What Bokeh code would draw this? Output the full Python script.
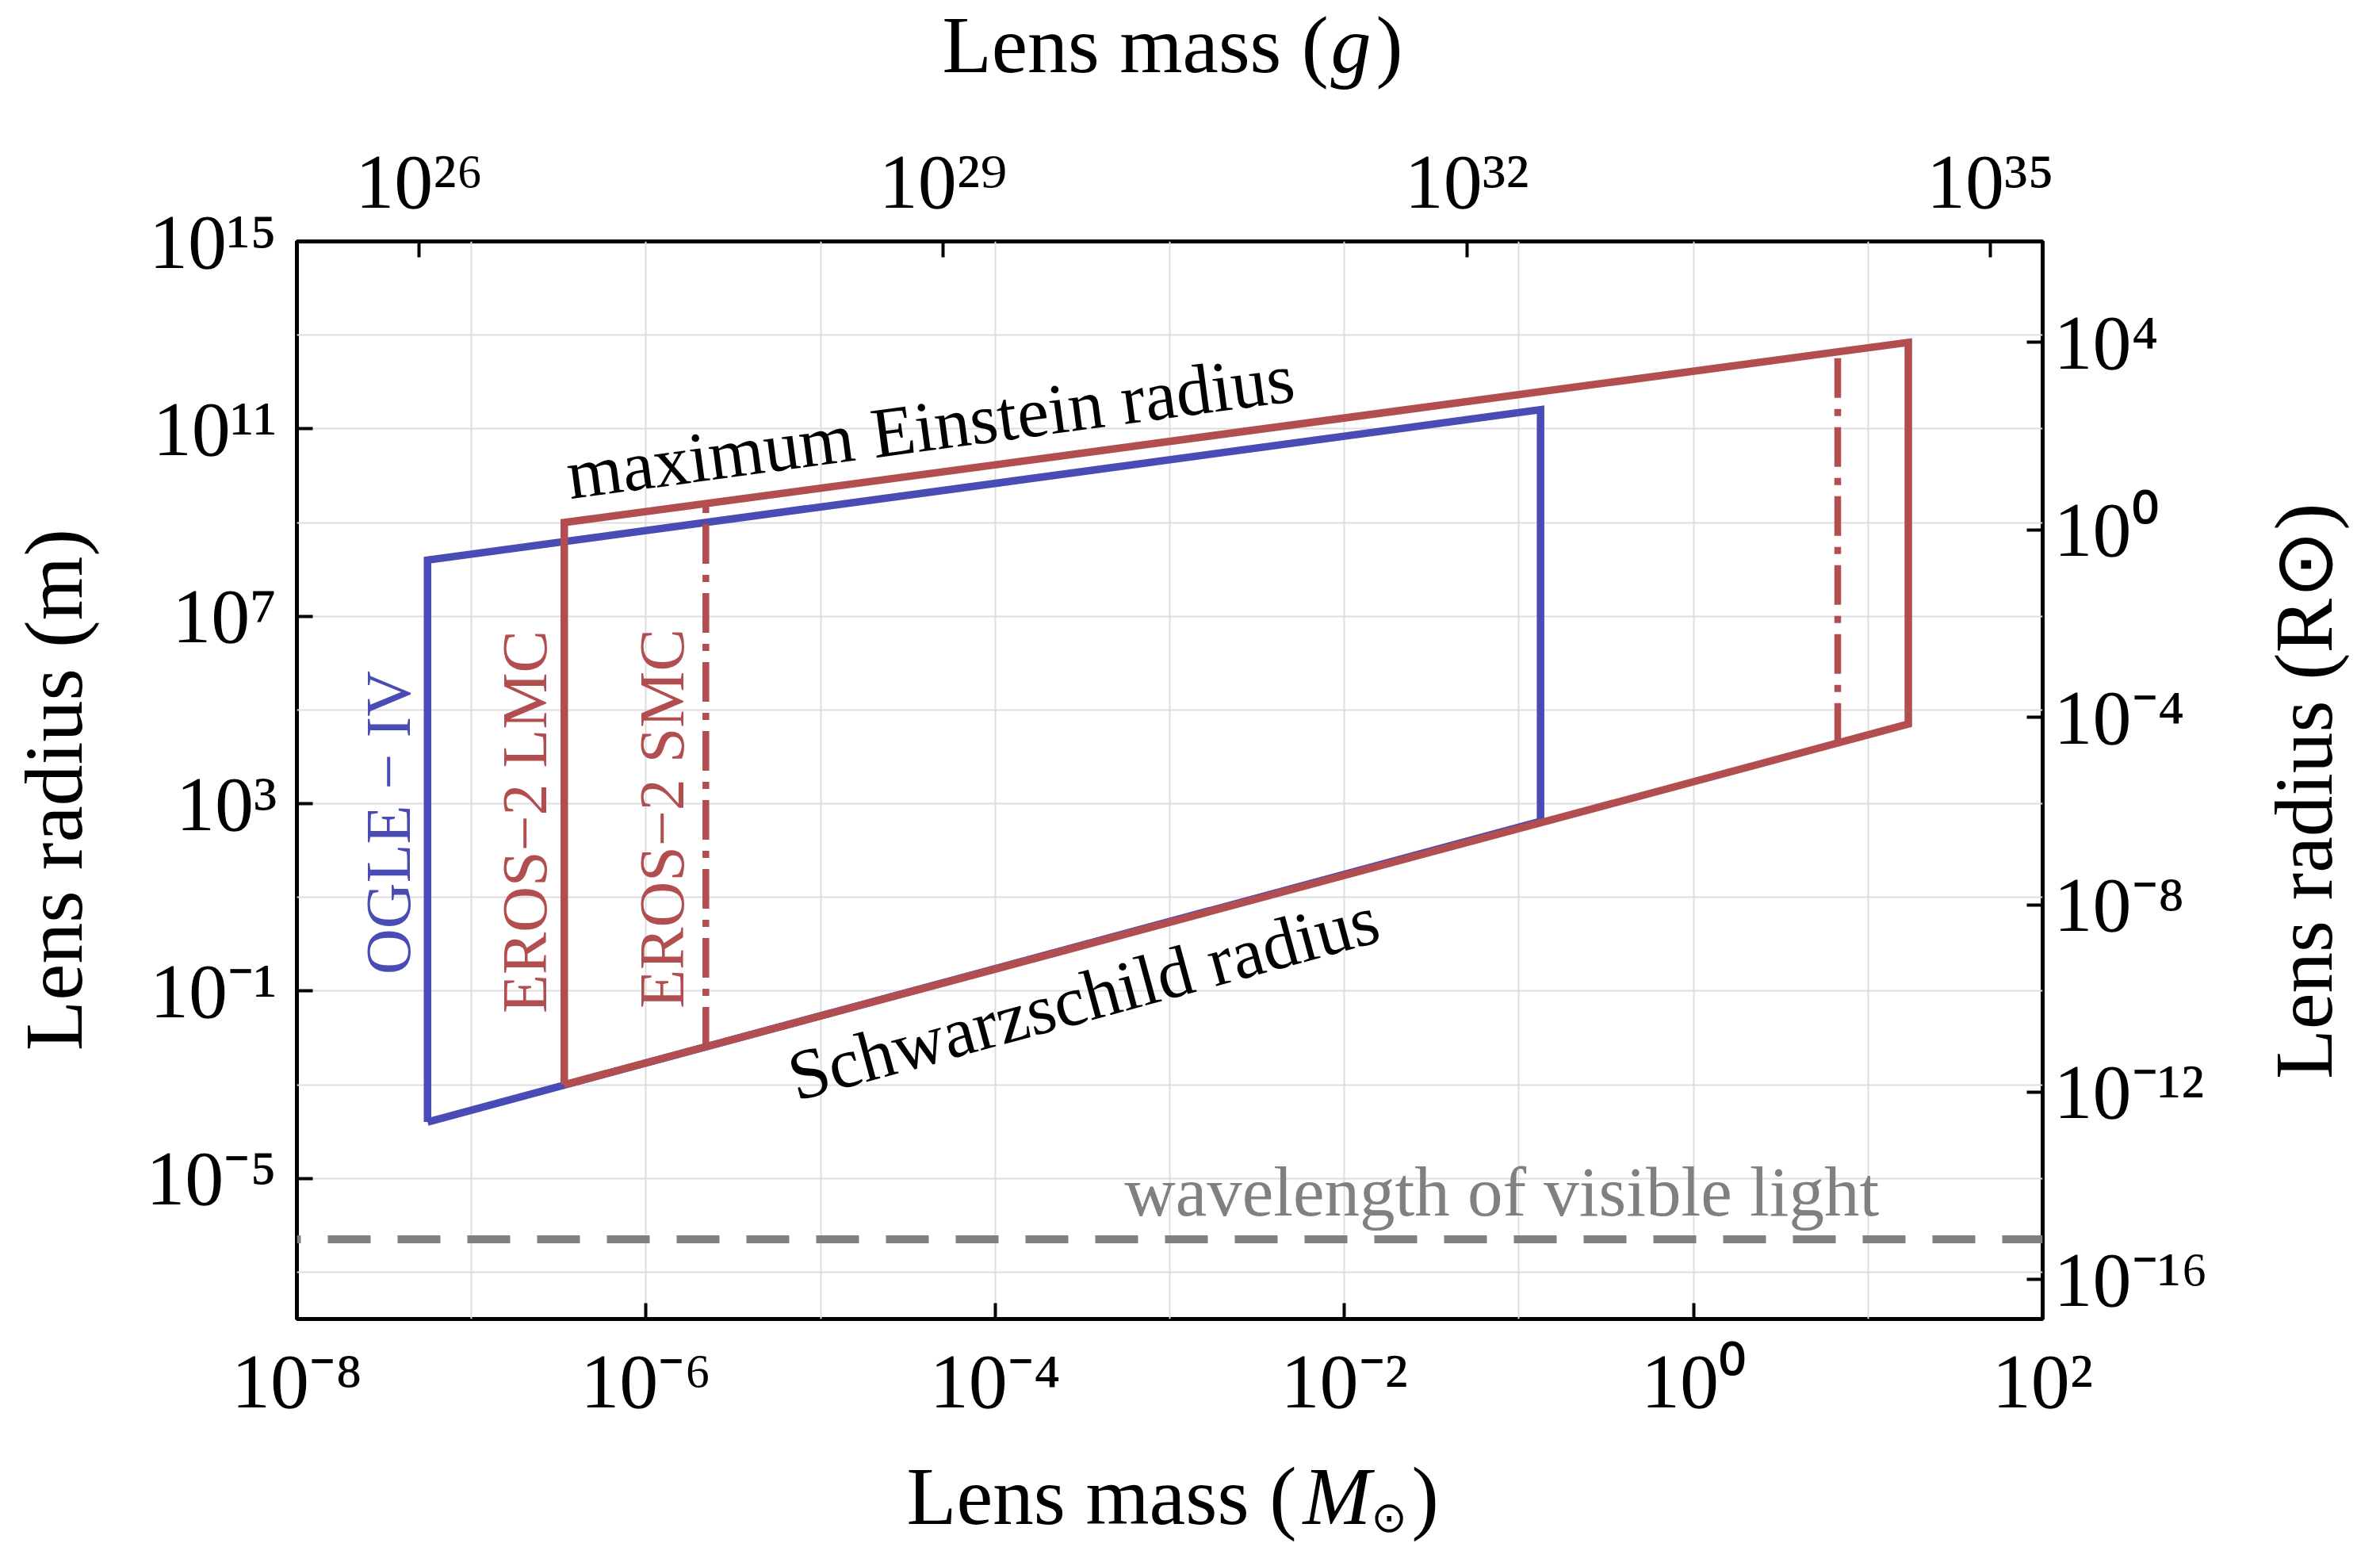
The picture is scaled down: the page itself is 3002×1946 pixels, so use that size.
import math
from bokeh.plotting import figure
from bokeh.layouts import column, row
from bokeh.models import (Range1d, LogAxis, LogScale, FixedTicker, Label, Span,
                          CustomJSTickFormatter)
from bokeh.embed import file_html
from bokeh.resources import INLINE

# ---------------- data ----------------
# OGLE-IV (Galactic bulge): mass range and radius bounds at each end
ogle_mass = [5.6e-8, 0.133]            # M_sun
ogle_schwarzschild = [1.6e-4, 4.2e2]   # m
ogle_einstein = [1.58e8, 2.57e11]      # m
# EROS-2 LMC
lmc_mass = [3.4e-7, 17.0]
lmc_schwarzschild = [1.0e-3, 5.0e4]
lmc_einstein = [1.0e9, 7.0e12]
# EROS-2 SMC (dash-dot limits)
smc_mass = [2.2e-6, 6.7]
smc_schwarzschild = [6.5e-3, 2.0e4]
smc_einstein = [2.6e9, 4.4e12]
# wavelength of visible light
visible_wavelength = 5e-7               # m

x_ticks = [1e-8, 1e-6, 1e-4, 1e-2, 1e0, 1e2]
y_ticks = [1e15, 1e11, 1e7, 1e3, 1e-1, 1e-5]
top_ticks_g = [1e26, 1e29, 1e32, 1e35]
right_ticks_rsun = [1e4, 1e0, 1e-4, 1e-8, 1e-12, 1e-16]
x_grid = [10.0 ** k for k in range(-8, 3)]
y_grid = [10.0 ** k for k in range(-7, 16, 2)]

MSUN_G = 1.989e33
RSUN_M = 6.957e8

XMIN, XMAX = 1e-8, 1e2
YMIN, YMAX = 1e-8, 1e15

# ---------------- layout (page pixels) ----------------
W, H = 3002, 1946
L, R, T, B = 374, 2576, 304, 1663          # plot frame
LEFT_W, RIGHT_W, TOP_H, BOT_H = 150, 172, 130, 136   # title strips
MAIN_W = W - LEFT_W - RIGHT_W
MAIN_H = H - TOP_H - BOT_H
DEC_X = (R - L) / (math.log10(XMAX) - math.log10(XMIN))
DEC_Y = (B - T) / (math.log10(YMAX) - math.log10(YMIN))

SERIF = "Liberation Serif"
BLUE = "#4a4cb5"
RED = "#b24e4f"
GRAY = "#808080"
SHIFT = 0.34  # em: Label anchor correction so that the given point is the baseline

p = figure(width=MAIN_W, height=MAIN_H, x_axis_type="log", y_axis_type="log",
           x_range=Range1d(XMIN, XMAX), y_range=Range1d(YMIN, YMAX),
           output_backend="svg", toolbar_location=None,
           min_border_left=L - LEFT_W, min_border_right=(W - RIGHT_W) - R,
           min_border_top=T - TOP_H, min_border_bottom=(H - BOT_H) - B)
p.title.visible = False
p.background_fill_color = "white"
p.border_fill_color = "white"
p.outline_line_color = "black"
p.outline_line_width = 5

p.extra_x_ranges = {"g": Range1d(XMIN * MSUN_G, XMAX * MSUN_G)}
p.extra_x_scales = {"g": LogScale()}
p.extra_y_ranges = {"rsun": Range1d(YMIN / RSUN_M, YMAX / RSUN_M)}
p.extra_y_scales = {"rsun": LogScale()}

p.below[0].ticker = FixedTicker(ticks=x_ticks)
p.left[0].ticker = FixedTicker(ticks=y_ticks)
top_axis = LogAxis(x_range_name="g", ticker=FixedTicker(ticks=top_ticks_g))
right_axis = LogAxis(y_range_name="rsun", ticker=FixedTicker(ticks=right_ticks_rsun))
p.add_layout(top_axis, "above")
p.add_layout(right_axis, "right")

SUP_JS = """
const sup = {'0':'\\u2070','1':'\\u00b9','2':'\\u00b2','3':'\\u00b3','4':'\\u2074',
             '5':'\\u2075','6':'\\u2076','7':'\\u2077','8':'\\u2078','9':'\\u2079',
             '-':'\\u207b'};
const e = Math.round(Math.log10(tick));
return '10' + String(e).split('').map(c => sup[c]).join('');
"""

for ax in p.below + p.left + p.above + p.right:
    ax.formatter = CustomJSTickFormatter(code=SUP_JS)
    ax.axis_line_color = None
    ax.major_tick_in = 20
    ax.major_tick_out = 0
    ax.major_tick_line_width = 4
    ax.major_tick_line_color = "black"
    ax.minor_tick_line_color = None
    ax.major_label_text_font = SERIF
    ax.major_label_text_font_size = "98px"
    ax.major_label_text_color = "black"

p.below[0].major_label_standoff = 24
top_axis.major_label_standoff = 22
p.left[0].major_label_standoff = 25
right_axis.major_label_standoff = 14

p.xgrid.ticker = FixedTicker(ticks=x_grid)
p.ygrid.ticker = FixedTicker(ticks=y_grid)
p.grid.grid_line_color = "#dedede"
p.grid.grid_line_width = 2

# ---------------- curves ----------------
def box(mass, rs, re):
    xs = [mass[0], mass[0], mass[1], mass[1], mass[0]]
    ys = [rs[0], re[0], re[1], rs[1], rs[0]]
    return xs, ys

bx, by = box(ogle_mass, ogle_schwarzschild, ogle_einstein)
p.line(bx, by, line_color=BLUE, line_width=9.5, line_join="miter")
rx, ry = box(lmc_mass, lmc_schwarzschild, lmc_einstein)
p.line(rx, ry, line_color=RED, line_width=9.5, line_join="miter")
p.multi_line(xs=[[m, m] for m in smc_mass],
             ys=[[a, b] for a, b in zip(smc_schwarzschild, smc_einstein)],
             line_color=RED, line_width=8.5, line_dash="50 14 9 14")

p.add_layout(Span(location=visible_wavelength, dimension="width", line_color=GRAY,
                  line_width=10, line_dash="54 34", line_dash_offset=49))

# ---------------- in-plot texts ----------------
def anchor(px, py, size, angle):
    ux, uy = -math.sin(angle), -math.cos(angle)   # screen "up" of the text
    return px + SHIFT * size * ux, py + SHIFT * size * uy

def add_text(px, py, text, size, color="black", align="left", angle=0.0):
    ax_, ay_ = anchor(px, py, size, angle)
    x = 10 ** (math.log10(XMIN) + (ax_ - L) / DEC_X)
    y = 10 ** (math.log10(YMAX) - (ay_ - T) / DEC_Y)
    p.add_layout(Label(x=x, y=y, text=text, text_font=SERIF,
                       text_font_size=f"{size}px", text_color=color,
                       text_align=align, text_baseline="alphabetic", angle=angle))

V = math.pi / 2
add_text(517, 1037, "OGLE \u2212 IV", 80, color=BLUE, align="center", angle=V)
add_text(689, 1036, "EROS\u22122 LMC", 80, color=RED, align="center", angle=V)
add_text(862, 1032, "EROS\u22122 SMC", 80, color=RED, align="center", angle=V)

add_text(1177, 567, "maximum Einstein radius", 90, align="center",
         angle=math.radians(7.7))
add_text(1374, 1287, "Schwarzschild radius", 90, align="center",
         angle=math.radians(15.3))
add_text(1418, 1533, "wavelength of visible light", 89, color=GRAY)

# ---------------- axis title strips ----------------
def strip(w, h):
    f = figure(width=w, height=h, x_range=Range1d(0, w), y_range=Range1d(0, h),
               output_backend="svg", toolbar_location=None, min_border=0,
               x_axis_location=None, y_axis_location=None)
    f.title.visible = False
    f.grid.visible = False
    f.outline_line_color = None
    f.background_fill_color = "white"
    f.border_fill_color = "white"
    return f

def put(f, origin, px, py, text, size, style="normal", font=SERIF, angle=0.0,
        align="left"):
    x0, y0 = origin
    ax_, ay_ = anchor(px, py, size, angle)
    f.add_layout(Label(x=ax_ - x0, y=f.height - (ay_ - y0), text=text,
                       text_font=font, text_font_size=f"{size}px",
                       text_font_style=style, text_color="black",
                       text_align=align, text_baseline="alphabetic",
                       angle=angle))

top_f = strip(W, TOP_H)
o = (0, 0)
put(top_f, o, 1188, 91, "Lens mass (", 102)
put(top_f, o, 1678, 91, "g", 102, style="italic")
put(top_f, o, 1735, 91, ")", 102)

bot_f = strip(W, BOT_H)
o = (0, H - BOT_H)
put(bot_f, o, 1143, 1922, "Lens mass (", 103)
put(bot_f, o, 1643, 1922, "M", 103, style="italic")
put(bot_f, o, 1729, 1931, "\u2299", 54, font="DejaVu Sans")
put(bot_f, o, 1780, 1922, ")", 103)

# vertical titles, read bottom-to-top, centred on the frame
left_f = strip(LEFT_W, MAIN_H)
put(left_f, (0, TOP_H), 102, 985, "Lens radius (m)", 104, angle=V, align="center")

right_f = strip(RIGHT_W, MAIN_H)
put(right_f, (W - RIGHT_W, TOP_H), 2941, 987, "Lens radius (R\u2299)", 103,
    angle=V, align="center")

layout = column(top_f, row(left_f, p, right_f), bot_f)
open("out.html", "w").write(file_html(layout, INLINE))
